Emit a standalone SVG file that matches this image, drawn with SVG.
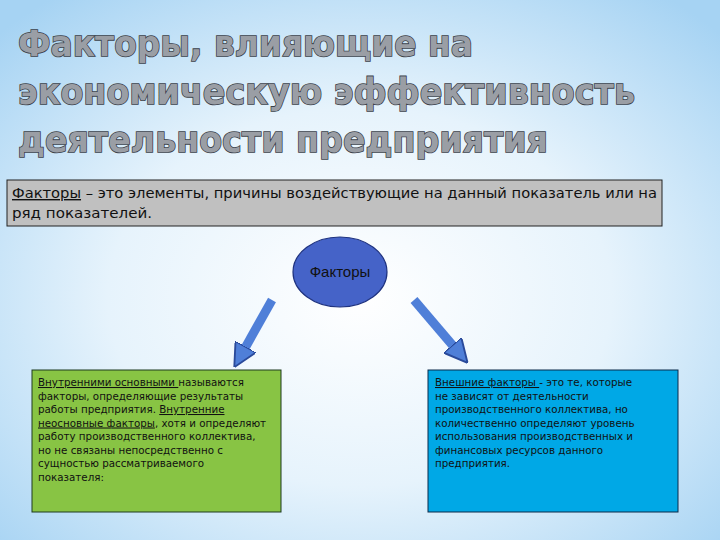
<svg xmlns="http://www.w3.org/2000/svg" width="720" height="540" viewBox="0 0 720 540">
<defs>
<radialGradient id="bg" cx="0.5" cy="0.55" r="0.7">
<stop offset="0" stop-color="#ffffff"/><stop offset="0.5" stop-color="#e6f3fc"/><stop offset="1" stop-color="#a6d3f3"/>
</radialGradient>
<marker id="ah" viewBox="0 0 10 10" refX="5" refY="5" markerWidth="2.6" markerHeight="2.6" orient="auto" markerUnits="strokeWidth">
<path d="M0,0 L10,5 L0,10 z" fill="#4f7fd8" stroke="#2a4a9a" stroke-width="0.8"/>
</marker>
<style>
.title{font-family:"DejaVu Sans",sans-serif;font-weight:bold;font-size:36px;fill:#9a9ea5;stroke:#3a3f48;stroke-width:1.6;paint-order:stroke}
.def{font-family:"DejaVu Sans",sans-serif;font-size:14px;fill:#111}
.sm{font-family:"DejaVu Sans",sans-serif;font-size:10.3px;fill:#111}
.arr{stroke:#4f7fd8;stroke-width:9;fill:none;marker-end:url(#ah)}
</style>
</defs>
<rect width="720" height="540" fill="url(#bg)"/>
<text class="title" x="18" y="56" textLength="455" lengthAdjust="spacingAndGlyphs">Факторы, влияющие на</text>
<text class="title" x="18" y="104" textLength="617" lengthAdjust="spacingAndGlyphs">экономическую эффективность</text>
<text class="title" x="18" y="152" textLength="530" lengthAdjust="spacingAndGlyphs">деятельности предприятия</text>
<g id="definition">
<rect x="7" y="180" width="655" height="46" fill="#c0c0c0" stroke="#222" stroke-width="1"/>
<text class="def" x="12" y="198" textLength="645" lengthAdjust="spacingAndGlyphs"><tspan text-decoration="underline">Факторы</tspan> – это элементы, причины воздействующие на данный показатель или на</text>
<text class="def" x="12" y="218" textLength="140" lengthAdjust="spacingAndGlyphs">ряд показателей.</text>
</g>
<g id="factors">
<ellipse cx="340" cy="272" rx="47" ry="35" fill="#4563c8" stroke="#1f3380" stroke-width="1.2"/>
<text x="340" y="277" text-anchor="middle" font-family="Liberation Sans, sans-serif" font-size="15" fill="#111">Факторы</text>
</g>
<g id="connectors">
<line class="arr" x1="272" y1="300" x2="240" y2="357"/>
<line class="arr" x1="414" y1="300" x2="460" y2="354"/>
</g>
<g id="internal">
<rect x="32" y="370" width="249" height="142" fill="#88c444" stroke="#1e3a1e" stroke-width="1"/>
<text class="sm" x="38" y="386"><tspan text-decoration="underline">Внутренними основными </tspan>называются</text>
<text class="sm" x="38" y="399.5">факторы, определяющие результаты</text>
<text class="sm" x="38" y="413">работы предприятия. <tspan text-decoration="underline">Внутренние</tspan></text>
<text class="sm" x="38" y="426.5"><tspan text-decoration="underline">неосновные факторы</tspan>, хотя и определяют</text>
<text class="sm" x="38" y="440">работу производственного коллектива,</text>
<text class="sm" x="38" y="453.5">но не связаны непосредственно с</text>
<text class="sm" x="38" y="467">сущностью рассматриваемого</text>
<text class="sm" x="38" y="480.5">показателя:</text>
</g>
<g id="external">
<rect x="428" y="370" width="250" height="142" fill="#00a8e6" stroke="#0a2a4a" stroke-width="1"/>
<text class="sm" x="435" y="386"><tspan text-decoration="underline">Внешние факторы </tspan>- это те, которые</text>
<text class="sm" x="435" y="399.5">не зависят от деятельности</text>
<text class="sm" x="435" y="413">производственного коллектива, но</text>
<text class="sm" x="435" y="426.5">количественно определяют уровень</text>
<text class="sm" x="435" y="440">использования производственных и</text>
<text class="sm" x="435" y="453.5">финансовых ресурсов данного</text>
<text class="sm" x="435" y="467">предприятия.</text>
</g>
</svg>
